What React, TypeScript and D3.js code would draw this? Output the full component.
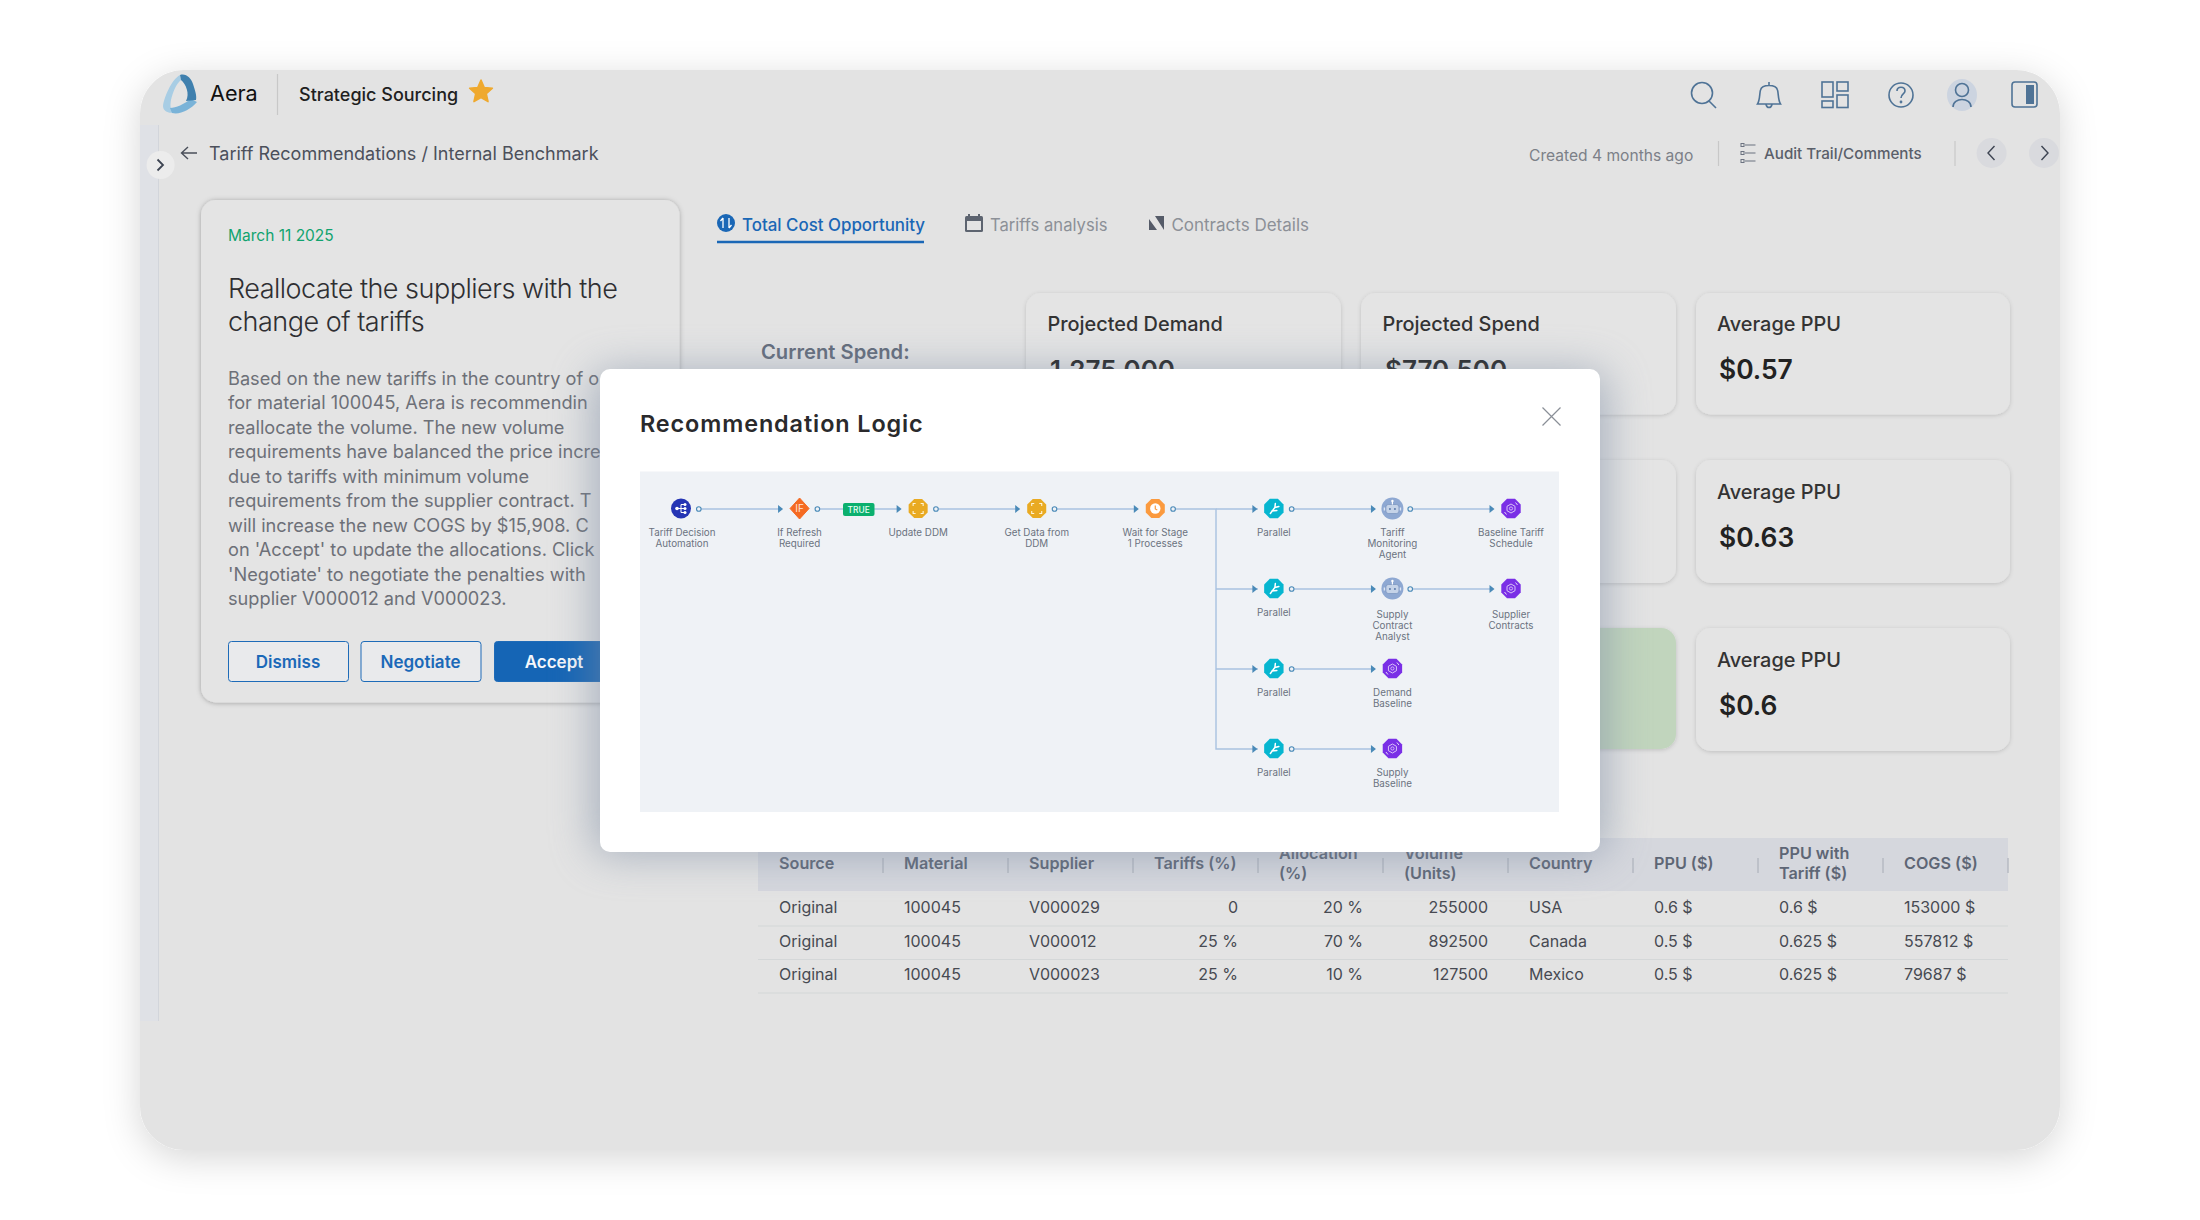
import React from 'react';
import * as d3 from 'd3';

const FONT = 'Inter, "Noto Sans", sans-serif';

const tabs = ['Total Cost Opportunity', 'Tariffs analysis', 'Contracts Details'];
const tabSizes = [16.9, 16.6, 17];
const bodyLines = [
  'Based on the new tariffs in the country of o',
  'for material 100045, Aera is recommendin',
  'reallocate the volume. The new volume',
  'requirements have balanced the price incre',
  'due to tariffs with minimum volume',
  'requirements from the supplier contract. T',
  'will increase the new COGS by $15,908. C',
  "on 'Accept' to update the allocations. Click",
  "'Negotiate' to negotiate the penalties with",
  'supplier V000012 and V000023.',
];
const headingLines = ['Reallocate the suppliers with the', 'change of tariffs'];
const buttons = ['Dismiss', 'Negotiate', 'Accept'];

const ppuValues = ['$0.57', '$0.63', '$0.6'];
const topCardTitles = ['Projected Demand', 'Projected Spend'];
const topCardValues = ['1,275,000', '$770,500'];

const tableColumns = ['Source', 'Material', 'Supplier', 'Tariffs (%)', 'Allocation (%)', 'Volume (Units)', 'Country', 'PPU ($)', 'PPU with Tariff ($)', 'COGS ($)'];
const headerLines = [['Source'], ['Material'], ['Supplier'], ['Tariffs (%)'], ['Allocation', '(%)'], ['Volume', '(Units)'], ['Country'], ['PPU ($)'], ['PPU with', 'Tariff ($)'], ['COGS ($)']];
const rightAligned = ['Tariffs (%)', 'Allocation (%)', 'Volume (Units)'];
const tableRows = [
  ['Original', '100045', 'V000029', '0', '20 %', '255000', 'USA', '0.6 $', '0.6 $', '153000 $'],
  ['Original', '100045', 'V000012', '25 %', '70 %', '892500', 'Canada', '0.5 $', '0.625 $', '557812 $'],
  ['Original', '100045', 'V000023', '25 %', '10 %', '127500', 'Mexico', '0.5 $', '0.625 $', '79687 $'],
];

type Kind = 'auto' | 'if' | 'ddm' | 'wait' | 'par' | 'agent' | 'data';
type FlowNode = { id: string; lines: string[]; kind: Kind; col: number; row: number };
const flowNodes: FlowNode[] = [
  { id: 'a', lines: ['Tariff Decision', 'Automation'], kind: 'auto', col: 0, row: 0 },
  { id: 'b', lines: ['If Refresh', 'Required'], kind: 'if', col: 1, row: 0 },
  { id: 'c', lines: ['Update DDM'], kind: 'ddm', col: 2, row: 0 },
  { id: 'd', lines: ['Get Data from', 'DDM'], kind: 'ddm', col: 3, row: 0 },
  { id: 'e', lines: ['Wait for Stage', '1 Processes'], kind: 'wait', col: 4, row: 0 },
  { id: 'p0', lines: ['Parallel'], kind: 'par', col: 5, row: 0 },
  { id: 'p1', lines: ['Parallel'], kind: 'par', col: 5, row: 1 },
  { id: 'p2', lines: ['Parallel'], kind: 'par', col: 5, row: 2 },
  { id: 'p3', lines: ['Parallel'], kind: 'par', col: 5, row: 3 },
  { id: 'g0', lines: ['Tariff', 'Monitoring', 'Agent'], kind: 'agent', col: 6, row: 0 },
  { id: 'g1', lines: ['Supply', 'Contract', 'Analyst'], kind: 'agent', col: 6, row: 1 },
  { id: 'g2', lines: ['Demand', 'Baseline'], kind: 'data', col: 6, row: 2 },
  { id: 'g3', lines: ['Supply', 'Baseline'], kind: 'data', col: 6, row: 3 },
  { id: 'h0', lines: ['Baseline Tariff', 'Schedule'], kind: 'data', col: 7, row: 0 },
  { id: 'h1', lines: ['Supplier', 'Contracts'], kind: 'data', col: 7, row: 1 },
];
const flowLinks: [string, string][] = [
  ['a', 'b'], ['b', 'c'], ['c', 'd'], ['d', 'e'],
  ['p0', 'g0'], ['p1', 'g1'], ['p2', 'g2'], ['p3', 'g3'], ['g0', 'h0'], ['g1', 'h1'],
];
const branchTargets = ['p0', 'p1', 'p2', 'p3'];
const kindColor: Record<Kind, string> = {
  auto: '#2535b4', if: '#f56a22', ddm: '#e9aa22', wait: '#fb9a3e', par: '#06b6d0', agent: '#8ea8d2', data: '#7a2fe6',
};

const colX = d3.scalePoint<number>().domain(d3.range(8)).range([681, 1511]);
const rowY = d3.scalePoint<number>().domain(d3.range(4)).range([509, 749]);
const tableX = d3.scaleBand<string>().domain(tableColumns).range([758, 2008]);
const tableRowY = d3.scalePoint<number>().domain(d3.range(3)).range([913, 980]);
const flowLine = d3.line<[number, number]>();
const node = (id: string) => flowNodes.find((n) => n.id === id)!;

const octagon = (r: number) => {
  const pts: [number, number][] = d3.range(8).map((i) => {
    const a = Math.PI / 8 + (i * Math.PI) / 4;
    return [r * Math.cos(a), r * Math.sin(a)];
  });
  return d3.line()(pts) + 'Z';
};

const Glyph = ({ kind }: { kind: Kind }) => {
  const fill = kindColor[kind];
  if (kind === 'auto') return (
    <g>
      <circle r={10} fill={fill} />
      <path d="M-4 0H4M0 -4V4M0 -4H4M0 4H4" stroke="#fff" strokeWidth={1} fill="none" />
      <circle cx={-4} r={1.8} fill="#fff" /><circle cx={4} cy={-4} r={1.5} fill="#fff" /><circle cx={4} r={1.5} fill="#fff" /><circle cx={4} cy={4} r={1.5} fill="#fff" />
    </g>
  );
  if (kind === 'if') return (
    <g>
      <path d="M0 -10.5L9.5 0L0 10.5L-9.5 0Z" fill={fill} stroke={fill} strokeWidth={1} strokeLinejoin="round" />
      <text textAnchor="middle" y={3.5} fontSize={10} fill="#ffe4d2">IF</text>
    </g>
  );
  if (kind === 'ddm') return (
    <g>
      <path d={octagon(10.3)} fill={fill} />
      <path d="M-5 -2.5V-5H-2.5M2.5 -5H5V-2.5M5 2.5V5H2.5M-2.5 5H-5V2.5" stroke="#fff5d8" strokeWidth={1.1} fill="none" />
    </g>
  );
  if (kind === 'wait') return (
    <g>
      <path d={octagon(10.3)} fill={fill} />
      <circle r={5.2} fill="#fff" />
      <path d="M0 -3V0.5L2 1.5" stroke={fill} strokeWidth={1.2} fill="none" />
    </g>
  );
  if (kind === 'par') return (
    <g>
      <path d={octagon(10.5)} fill={fill} />
      <path d="M-3.5 5L1 -1L1.5 -5M1 -1L5 -2M-2 2.5L3 2" stroke="#fff" strokeWidth={1.5} fill="none" strokeLinecap="round" />
    </g>
  );
  if (kind === 'agent') return (
    <g>
      <circle r={11} fill={fill} />
      <rect x={-6.5} y={-4} width={13} height={9} rx={2.5} fill="#c5d3e8" stroke="#6f8bb8" strokeWidth={0.6} />
      <circle cx={-2.5} cy={0.5} r={1} fill="#5a78a8" /><circle cx={2.5} cy={0.5} r={1} fill="#5a78a8" />
      <path d="M0 -4V-7" stroke="#fff" strokeWidth={1.2} /><circle cy={-7.5} r={1.2} fill="#fff" />
      <path d="M-8 -1V2M8 -1V2" stroke="#dde6f3" strokeWidth={1.4} />
    </g>
  );
  return (
    <g>
      <path d={octagon(10.5)} fill={fill} />
      <path d="M0 -4.5L4 -2.2V2.2L0 4.5L-4 2.2V-2.2Z" fill="none" stroke="#e4d4fb" strokeWidth={0.9} />
      <circle r={1.6} fill="none" stroke="#e4d4fb" strokeWidth={0.8} />
      <path d="M-6.5 3.5L-4.5 6M6.5 -3.5L4.5 -6" stroke="#e4d4fb" strokeWidth={1} />
    </g>
  );
};

const labelOffset = (n: FlowNode) => (n.row === 1 && (n.col === 6 || n.col === 7) ? 29 : 27);

const Flow = () => (
  <g fontFamily={FONT}>
    <rect x={640} y={471.5} width={919} height={340.5} fill="#eff2f6" />
    <path d={flowLine([[1172.6, rowY(0)!], [1216, rowY(0)!], [1216, rowY(3)!], [1258, rowY(3)!]])!} fill="none" stroke="#a9c2e0" strokeWidth={1.4} />
    <path d={flowLine([[1216, rowY(0)!], [1258, rowY(0)!]])!} fill="none" stroke="#a9c2e0" strokeWidth={1.4} />
    {branchTargets.slice(1, 3).map((t) => (
      <path key={t} d={flowLine([[1216, rowY(node(t).row)!], [1258, rowY(node(t).row)!]])!} fill="none" stroke="#a9c2e0" strokeWidth={1.4} />
    ))}
    {flowLinks.map(([s, t]) => {
      const a = node(s), b = node(t);
      const y = rowY(a.row)!;
      return <path key={s + t} d={flowLine([[colX(a.col)! + 20, y], [colX(b.col)! - 18, y]])!} fill="none" stroke="#a9c2e0" strokeWidth={1.4} />;
    })}
    {[...flowLinks.map(([, t]) => t), ...branchTargets].map((t) => {
      const b = node(t);
      const x = colX(b.col)! - 16.5;
      const y = rowY(b.row)!;
      return <path key={'ar' + t} d={`M${x - 5} ${y - 4}L${x} ${y}L${x - 5} ${y + 4}Z`} fill="#4a8ab8" />;
    })}
    {flowNodes.filter((n) => n.col < 7 && !(n.col === 6 && n.row > 1)).map((n) => (
      <circle key={'port' + n.id} cx={colX(n.col)! + 17.8} cy={rowY(n.row)!} r={2.3} fill="#eff2f6" stroke="#4a8ab8" strokeWidth={1.1} />
    ))}
    {flowNodes.map((n) => (
      <g key={n.id} transform={`translate(${colX(n.col)},${rowY(n.row)! - 0.5})`}><Glyph kind={n.kind} /></g>
    ))}
    <rect x={843} y={503} width={31.5} height={13} rx={2} fill="#0bb06e" />
    <text x={858.7} y={513} textAnchor="middle" fontSize={8.4} fontWeight={500} fill="#e8fff4">TRUE</text>
    {flowNodes.map((n) => (
      <text key={'l' + n.id} textAnchor="middle" fontSize={9.8} fill="#6b7280">
        {n.lines.map((l, i) => (
          <tspan key={i} x={colX(n.col)! + (n.col === 0 ? 1 : 0)} y={rowY(n.row)! + labelOffset(n) + i * 11}>{l}</tspan>
        ))}
      </text>
    ))}
  </g>
);

const Table = () => (
  <g fontFamily={FONT}>
    <rect x={758} y={838} width={1250} height={53} fill="#d5d7dd" />
    {tableColumns.map((c, i) => {
      const x = tableX(c)!;
      const tx = x + 21;
      const lines = headerLines[i];
      return (
        <g key={c}>
          <text fontSize={16.2} fontWeight={600} fill="#5e6675">
            {lines.map((l, j) => (
              <tspan key={j} x={tx} y={lines.length === 1 ? 868.5 : 858.5 + j * 20}>{l}</tspan>
            ))}
          </text>
          <path d={`M${x + 125} 858V873`} stroke="#b4b8c0" strokeWidth={1.4} />
        </g>
      );
    })}
    {tableRows.map((row, r) => (
      <g key={r}>
        {row.map((v, i) => {
          const c = tableColumns[i];
          const x = tableX(c)!;
          const ra = rightAligned.includes(c);
          return (
            <text key={c} x={ra ? x + 105 : x + 21} y={tableRowY(r)} fontSize={16} fill="#474a52" textAnchor={ra ? 'end' : 'start'}>{v}</text>
          );
        })}
        <path d={`M758 ${tableRowY(r)! + 13}H2008`} stroke="#d4d7d8" strokeWidth={1.2} />
      </g>
    ))}
  </g>
);

const Card = ({ x, y, w, h, fill = '#e4e4e4', strong = false }: { x: number; y: number; w: number; h: number; fill?: string; strong?: boolean }) => (
  <rect x={x} y={y} width={w} height={h} rx={15} fill={fill} filter={strong ? 'url(#cardStrong)' : 'url(#card)'} />
);

const TopIcons = () => (
  <g fill="none" stroke="#4f7396" strokeWidth={1.6}>
    <circle cx={1702} cy={93} r={10.5} /><path d="M1709 101L1716 108" />
    <path d="M1757.5 104C1760 100 1759.5 93 1760.5 90C1762 84 1776 84 1777.5 90C1778.5 93 1778 100 1780.5 104ZM1766 104.5C1767 108.5 1771 108.5 1772 104.5M1769 85V82" />
    <rect x={1822} y={82} width={11} height={15} /><rect x={1837} y={82} width={11} height={9} /><rect x={1822} y={101} width={11} height={6.5} /><rect x={1837} y={95} width={11} height={12.5} />
    <circle cx={1901} cy={95} r={12} /><path d="M1897 91C1897 86 1905 86 1905 91C1905 94 1901 94 1901 98" />
    <circle cx={1901} cy={102} r={0.6} />
    <ellipse cx={1962} cy={95} rx={15} ry={16} fill="#ccd4e0" stroke="none" />
    <circle cx={1962} cy={90} r={6.5} /><path d="M1953 107C1953 97 1971 97 1971 107" />
    <rect x={2012} y={82} width={25} height={25} rx={3} />
    <rect x={2026} y={85} width={8} height={19} fill="#4f7396" stroke="none" />
  </g>
);

const Logo = () => (
  <g>
    <path d="M180 75C171 80 164 98 163 106C163 112 170 114 175 112C170 110 170 106 171 100C173 92 176 84 181 80Z" fill="#a8cde4" />
    <path d="M170 108C176 108 184 104 191 99L197 102C190 110 180 115 172 113Z" fill="#7ab3d8" />
    <path d="M180 75C186 73 191 78 193 84C195 90 197 96 196 100L186 101C190 94 186 84 181 80Z" fill="#3f80ae" />
  </g>
);

const tabX = [742, 990, 1171.4];

export default function App() {
  return (
    <svg width={2200} height={1220} viewBox="0 0 2200 1220" style={{ position: 'absolute', left: 0, top: 0, display: 'block' }} fontFamily={FONT}>
      <defs>
        <filter id="panel" x="-10%" y="-15%" width="120%" height="130%">
          <feDropShadow dx={0} dy={8} stdDeviation={18} floodColor="#000" floodOpacity={0.16} />
        </filter>
        <filter id="card" x="-10%" y="-10%" width="120%" height="120%">
          <feDropShadow dx={0} dy={1} stdDeviation={2.2} floodColor="#000" floodOpacity={0.16} />
        </filter>
        <filter id="cardStrong" x="-10%" y="-10%" width="120%" height="120%">
          <feDropShadow dx={0} dy={0.5} stdDeviation={2.6} floodColor="#000" floodOpacity={0.3} />
        </filter>
        <filter id="modalShadow" x="-20%" y="-30%" width="140%" height="160%">
          <feGaussianBlur stdDeviation={22} />
        </filter>
        <clipPath id="panelClip"><rect x={140} y={70} width={1920} height={1080} rx={44} /></clipPath>
      </defs>
      <rect width={2200} height={1220} fill="#fff" />
      <rect x={140} y={70} width={1920} height={1080} rx={44} fill="#e3e3e3" filter="url(#panel)" />

      <g clipPath="url(#panelClip)">
        <rect x={140} y={125} width={19} height={896} fill="#dfe1e6" />
        <path d="M158.5 125V1021" stroke="#d2d5db" strokeWidth={1} />
      </g>
      <circle cx={160.6} cy={165} r={14} fill="#ececec" />
      <path d="M157.5 159.5L163 165L157.5 170.5" fill="none" stroke="#3d4452" strokeWidth={1.8} />

      <Logo />
      <text x={210} y={101} fontSize={21.6} fill="#111">Aera</text>
      <path d="M277.5 74V115" stroke="#c8c8c8" strokeWidth={1.2} />
      <text x={299} y={100.5} fontSize={18} fontWeight={500} fill="#1f1f1f">Strategic Sourcing</text>
      <path transform="translate(481,92)" d={d3.line()(d3.range(10).map((i) => {
        const a = -Math.PI / 2 + (i * Math.PI) / 5;
        const r = i % 2 ? 5.6 : 12;
        return [r * Math.cos(a), r * Math.sin(a)] as [number, number];
      }))! + 'Z'} fill="#efa92e" stroke="#efa92e" strokeWidth={1.5} strokeLinejoin="round" />

      <path d="M197 153H182M188 147L181.5 153L188 159" fill="none" stroke="#4a4f5a" strokeWidth={1.4} />
      <text x={209} y={160} fontSize={18} fill="#4c505b">Tariff Recommendations / Internal Benchmark</text>

      <TopIcons />
      <text x={1529} y={161} fontSize={15.6} fill="#7c8088">Created 4 months ago</text>
      <path d="M1718.5 141V166M1955 141V166" stroke="#c8c8c8" strokeWidth={1.2} />
      <path d="M1745 145H1755.5M1745 153H1755.5M1745 161H1755.5" stroke="#6b7280" strokeWidth={1.2} />
      <rect x={1741} y={143.5} width={3} height={3} fill="none" stroke="#6b7280" /><rect x={1741} y={151.5} width={3} height={3} fill="none" stroke="#6b7280" /><rect x={1741} y={159.5} width={3} height={3} fill="none" stroke="#6b7280" />
      <text x={1764} y={159} fontSize={15.2} fontWeight={500} fill="#5a5f6a">Audit Trail/Comments</text>
      <circle cx={1991.6} cy={153} r={15} fill="#d9dade" />
      <circle cx={2044} cy={153} r={15} fill="#d9dade" />
      <path d="M1994.5 146L1988 153L1994.5 160M2041.5 146L2048 153L2041.5 160" fill="none" stroke="#3d4452" strokeWidth={1.4} />

      <Card x={201} y={200} w={478.5} h={502.5} strong />
      <text x={228} y={241} fontSize={15.5} fill="#10a36f">March 11 2025</text>
      {headingLines.map((l, i) => <text key={l} x={228} y={297.5 + i * 33.5} fontSize={27} letterSpacing={-0.5} fontWeight={300} fill="#2f2f32">{l}</text>)}
      {bodyLines.map((l, i) => <text key={i} x={228} y={384.5 + i * 24.5} fontSize={18.2} fill="#6d7078">{l}</text>)}
      {buttons.map((b, i) => {
        const x = [228, 360.5, 494][i];
        const w = 120;
        const primary = i === 2;
        return (
          <g key={b}>
            <rect x={x + 0.5} y={641.5} width={w} height={40} rx={3} fill={primary ? '#1565b5' : '#e9eaec'} stroke="#1e6bb8" strokeWidth={1} />
            <text x={x + w / 2} y={667.5} textAnchor="middle" fontSize={17} fontWeight={600} fill={primary ? '#f4f7fb' : '#1b69b8'}>{b}</text>
          </g>
        );
      })}

      {tabs.map((t, i) => (
        <text key={t} x={tabX[i]} y={230.5} fontSize={tabSizes[i]} fontWeight={i === 0 ? 500 : 400} fill={i === 0 ? '#1a67b6' : '#8c9097'}>{t}</text>
      ))}
      <path d="M717 242H924" stroke="#1a67b6" strokeWidth={2.5} />
      <circle cx={726} cy={223} r={9} fill="#1a67b6" />
      <path d="M723 218V228M723 218L720.5 221M729 228V218M729 228L731.5 225" fill="none" stroke="#fff" strokeWidth={1.3} />
      <rect x={965} y={216} width={18} height={16} rx={1.5} fill="#5d6470" />
      <rect x={967} y={221} width={14} height={9} fill="#e3e3e3" />
      <path d="M969 214V218M979 214V218" stroke="#5d6470" strokeWidth={2} />
      <path d="M1149 219L1157 230H1149ZM1155 216H1164V230Z" fill="#555b68" />

      <text x={761} y={358.5} fontSize={20.2} fontWeight={600} fill="#636c7b">Current Spend:</text>

      {[1026, 1361].map((x, i) => (
        <g key={x}>
          <Card x={x} y={293} w={315} h={121.5} />
          <text x={x + 21.5} y={331} fontSize={19.9} fontWeight={500} fill="#333">{topCardTitles[i]}</text>
          <text x={x + 24} y={379} fontSize={26} fontWeight={600} fill="#222">{topCardValues[i]}</text>
        </g>
      ))}
      <Card x={1361} y={460} w={315} h={123} />
      <Card x={1361} y={628} w={315} h={121} fill="#c1d5bd" />
      {ppuValues.map((v, i) => {
        const y = [293, 461, 629][i];
        return (
          <g key={v}>
            <Card x={1696} y={i === 0 ? y : y - 1} w={314} h={i === 0 ? 121.5 : 123} />
            <text x={1717} y={y + 38} fontSize={19.9} fontWeight={500} fill="#333">Average PPU</text>
            <text x={1719} y={y + 86} fontSize={26.4} fontWeight={600} fill="#222">{v}</text>
          </g>
        );
      })}

      <Table />

      <g>
        <rect x={594} y={372} width={1012} height={482} rx={12} fill="#7c8ba3" opacity={0.6} filter="url(#modalShadow)" />
        <rect x={600} y={369} width={1000} height={483} rx={10} fill="#fff" />
        <text x={640} y={431.5} fontSize={23.4} fontWeight={600} fill="#2a2a2c" letterSpacing={0.9}>Recommendation Logic</text>
        <path d="M1542.5 407.5L1560.5 425.5M1560.5 407.5L1542.5 425.5" stroke="#8a8f97" strokeWidth={1.2} />
        <Flow />
      </g>
    </svg>
  );
}
